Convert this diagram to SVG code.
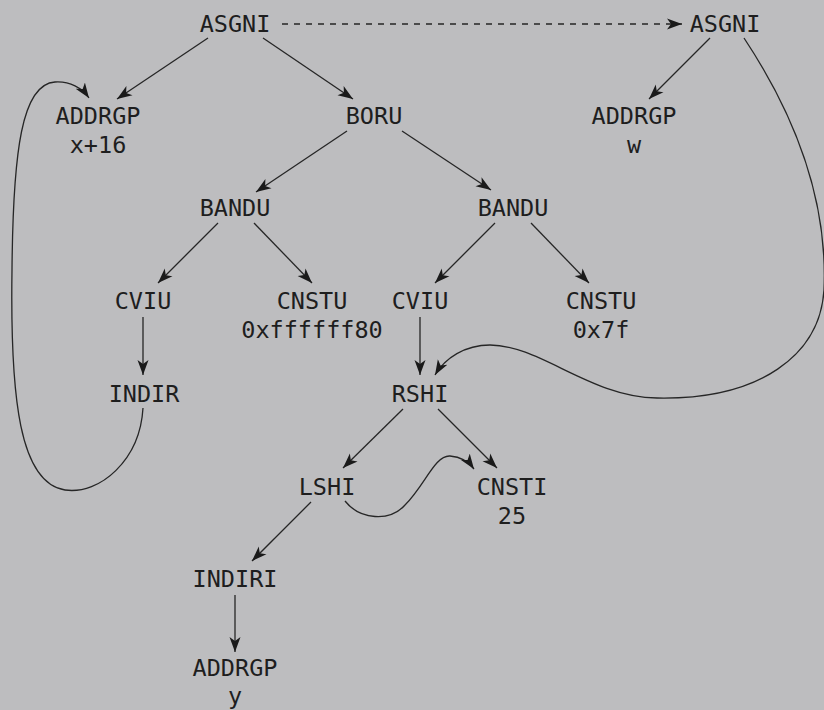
<svg xmlns="http://www.w3.org/2000/svg" width="824" height="710" viewBox="0 0 824 710">
<defs>
<marker id="ah" markerUnits="userSpaceOnUse" markerWidth="16" markerHeight="12" refX="15" refY="6" orient="auto">
<path d="M0,0.5 L15,6 L0,11.5 L4,6 z" fill="#1a1a1a"/>
</marker>
<style>
.t{font-family:"DejaVu Sans Mono","Liberation Mono",monospace;font-size:23.5px;fill:#1e1e1e;text-anchor:middle}
.e{fill:none;stroke:#262626;stroke-width:1.3;marker-end:url(#ah)}
.d{stroke-dasharray:6,6}
</style>
</defs>
<rect width="824" height="710" fill="#bdbdbf"/>
<g id="connectors">
<path class="e" d="M208,38 L117,99"/>
<path class="e" d="M263,38 L353,99"/>
<path class="e d" d="M282,24 L682,24"/>
<path class="e" d="M710,38 L649,99"/>
<path class="e" d="M744,38 C795,115 828,200 824,290 C820,355 760,400 657,398 C590,397 540,345 490,345 C465,345 445,358 435,375"/>
<path class="e" d="M143,408 C140,460 100,495 65,490 C20,483 10,400 12,270 C13,150 22,84 55,82 C70,81 82,88 89,98"/>
<path class="e" d="M347,131 L256,192"/>
<path class="e" d="M402,131 L491,190"/>
<path class="e" d="M218,223 L158,283"/>
<path class="e" d="M254,223 L312,283"/>
<path class="e" d="M143,317 L143,375"/>
<path class="e" d="M495,223 L435,283"/>
<path class="e" d="M531,223 L589,283"/>
<path class="e" d="M420,317 L420,375"/>
<path class="e" d="M403,409 L343,468"/>
<path class="e" d="M438,409 L497,468"/>
<path class="e" d="M345,501 C360,520 390,522 405,505 C425,485 435,455 450,456 C462,457 469,462 474,469"/>
<path class="e" d="M311,502 L252,561"/>
<path class="e" d="M235,595 L235,652"/>
</g>
<g id="asgni1"><text class="t" x="235" y="32">ASGNI</text></g>
<g id="asgni2"><text class="t" x="725" y="32">ASGNI</text></g>
<g id="addrgp_x"><text class="t" x="98" y="124">ADDRGP</text><text class="t" x="98" y="153">x+16</text></g>
<g id="boru"><text class="t" x="374" y="124">BORU</text></g>
<g id="addrgp_w"><text class="t" x="634" y="124">ADDRGP</text><text class="t" x="634" y="153">w</text></g>
<g id="bandu1"><text class="t" x="235" y="216">BANDU</text></g>
<g id="bandu2"><text class="t" x="513" y="216">BANDU</text></g>
<g id="cviu1"><text class="t" x="143" y="309">CVIU</text></g>
<g id="cnstu1"><text class="t" x="312" y="309">CNSTU</text><text class="t" x="312" y="338">0xffffff80</text></g>
<g id="cviu2"><text class="t" x="420" y="309">CVIU</text></g>
<g id="cnstu2"><text class="t" x="601" y="309">CNSTU</text><text class="t" x="601" y="338">0x7f</text></g>
<g id="indir"><text class="t" x="144" y="402">INDIR</text></g>
<g id="rshi"><text class="t" x="420" y="402">RSHI</text></g>
<g id="lshi"><text class="t" x="327" y="495">LSHI</text></g>
<g id="cnsti"><text class="t" x="512" y="495">CNSTI</text><text class="t" x="512" y="524">25</text></g>
<g id="indiri"><text class="t" x="235" y="587">INDIRI</text></g>
<g id="addrgp_y"><text class="t" x="235" y="676">ADDRGP</text><text class="t" x="235" y="704">y</text></g>
</svg>
